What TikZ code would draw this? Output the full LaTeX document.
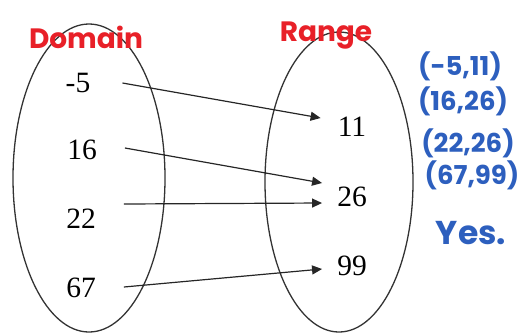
\documentclass[tikz,border=0pt]{standalone}
\usepackage{fontspec}
\usetikzlibrary{positioning, arrows.meta, calc, shapes.geometric}
\newfontfamily\numfont{Liberation Serif}
\newfontfamily\handfont{Poppins}
\definecolor{inkred}{RGB}{232,32,40}
\definecolor{inkblue}{RGB}{45,95,190}

\begin{document}
\begin{tikzpicture}[
  x=1pt, y=-1pt,
  setoval/.style={draw=black!80, line width=1.3pt, ellipse},
  num/.style={font=\numfont\fontsize{29.5}{30}\selectfont, inner sep=0pt},
  title/.style={font=\handfont\bfseries\fontsize{28}{30}\selectfont, text=inkred, inner sep=0pt},
  pair/.style={font=\handfont\bfseries\fontsize{26}{28}\selectfont, text=inkblue, inner sep=0pt},
  arrow/.style={-{Triangle[length=10pt, width=9pt]}, line width=1.2pt, black!85}
]
  \useasboundingbox (0,0) rectangle (526,333);
  % the two sets
  \node[setoval, minimum width=152pt, minimum height=308pt] (dom) at (89,178) {};
  \node[setoval, minimum width=148pt, minimum height=300pt] (ran) at (339,182) {};
  \node[title] (domlbl) at (86,37) {Domain};
  \node[title] (ranlbl) at (326,36) {Range};
  % domain values
  \node[num] (d1) at (78,83) {-5};
  \node[num] (d2) at (82,150) {16};
  \node[num] (d3) at (81,219) {22};
  \node[num] (d4) at (81,288) {67};
  % range values
  \node[num] (r1) at (352,127) {11};
  \node[num] (r2) at (352,197) {26};
  \node[num] (r3) at (352,266) {99};
  % mapping
  \draw[arrow] ([shift={(32,0)}]d1.east) -- ([shift={(-17,-9)}]r1.west);
  \draw[arrow] ([shift={(28,-2)}]d2.east) -- ([shift={(-15,-14)}]r2.west);
  \draw[arrow] ([shift={(28,-15)}]d3.east) -- ([shift={(-15,6)}]r2.west);
  \draw[arrow] ([shift={(28,-1)}]d4.east) -- ([shift={(-15,3)}]r3.west);
  % ordered pairs
  \node[pair] (p1) at (460,66) {(-5,11)};
  \node[pair] (p2) at (463,101) {(16,26)};
  \node[pair] (p3) at (468,143) {(22,26)};
  \node[pair] (p4) at (472,175) {(67,99)};
  \node[pair, font=\handfont\bfseries\fontsize{33}{36}\selectfont] (ans) at (471,233) {Yes.};
\end{tikzpicture}
\end{document}
